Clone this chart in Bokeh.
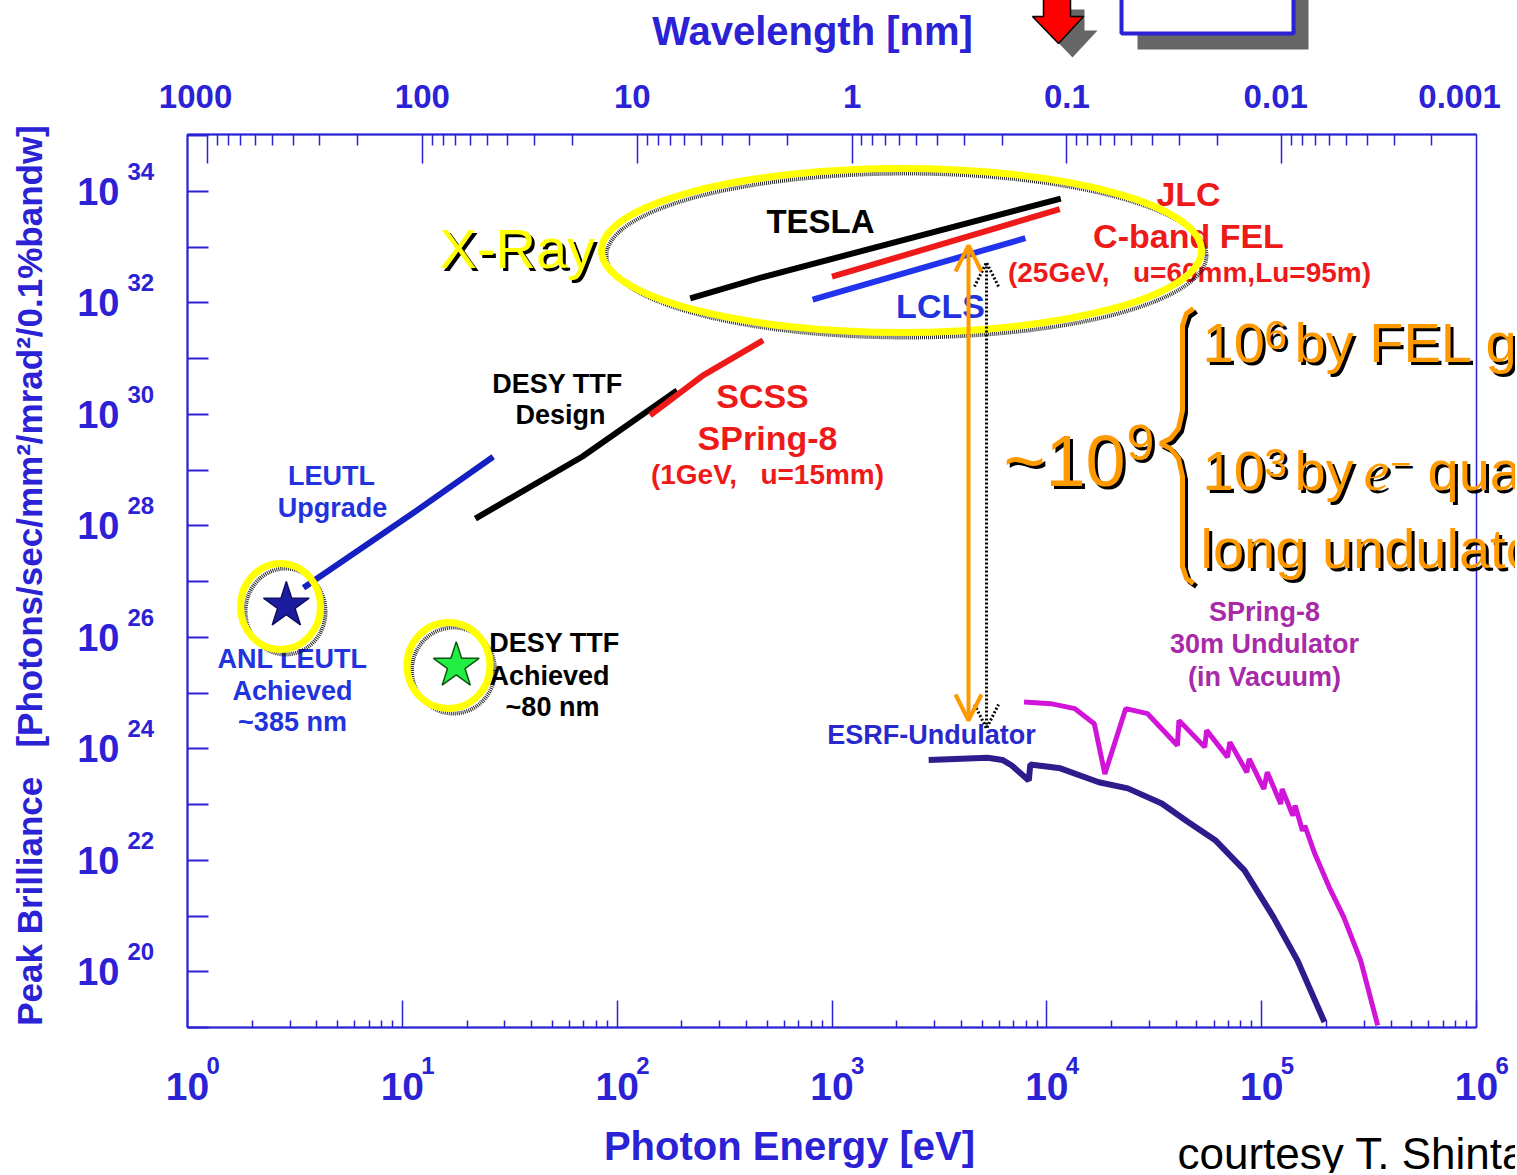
import math
from bokeh.plotting import figure
from bokeh.models import (FixedTicker, LogAxis, Arrow, OpenHead, Range1d, CustomJSTickFormatter)
from bokeh.core.properties import value
from bokeh.embed import file_html
from bokeh.resources import INLINE

# ---------------- data ----------------
HC = 1239.84  # eV * nm, converts photon energy to wavelength

energy_decades = [0, 1, 2, 3, 4, 5, 6]
brilliance_decades = list(range(19, 36))
brilliance_label_decades = [20, 22, 24, 26, 28, 30, 32, 34]
wavelength_ticks_nm = [1000, 100, 10, 1, 0.1, 0.01, 0.001]
wavelength_tick_labels = ["1000", "100", "10", "1", "0.1", "0.01", "0.001"]

# series as log10(photon energy / eV) and log10(peak brilliance)
tesla_logE = [2.34, 2.665, 4.065]
tesla_logB = [32.08, 32.45, 33.87]
jlc_logE = [3.00, 4.06]
jlc_logB = [32.47, 33.68]
lcls_logE = [2.91, 3.90]
lcls_logB = [32.06, 33.16]
scss_logE = [2.153, 2.400, 2.679]
scss_logB = [29.98, 30.70, 31.33]
desy_design_logE = [1.340, 1.837, 2.279]
desy_design_logB = [28.13, 29.24, 30.43]
leutl_upgrade_logE = [0.540, 1.047, 1.423]
leutl_upgrade_logB = [26.89, 28.22, 29.24]
anl_leutl_logE = [0.460]
anl_leutl_logB = [26.57]
desy_achieved_logE = [1.251]
desy_achieved_logB = [25.49]
esrf_logE = [3.450, 3.725, 3.793, 3.837, 3.916, 3.923, 4.063, 4.242, 4.377, 4.535,
             4.649, 4.784, 4.920, 5.055, 5.167, 5.292]
esrf_logB = [23.80, 23.84, 23.80, 23.70, 23.43, 23.72, 23.65, 23.40, 23.29, 23.02,
             22.71, 22.36, 21.82, 20.98, 20.20, 19.10]
spring8_logE = [3.894, 4.018, 4.131, 4.221, 4.270, 4.367, 4.469, 4.608, 4.615, 4.735,
                4.744, 4.841, 4.852, 4.931, 4.942, 5.010, 5.026, 5.089, 5.095, 5.145,
                5.156, 5.190, 5.201, 5.247, 5.314, 5.382, 5.461, 5.540]
spring8_logB = [24.84, 24.81, 24.72, 24.45, 23.55, 24.72, 24.63, 24.06, 24.51, 24.03,
                24.33, 23.85, 24.12, 23.58, 23.82, 23.28, 23.58, 23.01, 23.28, 22.80,
                22.98, 22.53, 22.62, 22.12, 21.52, 20.98, 20.20, 19.04]

# ---------------- layout / style ----------------
W, H = 1515, 1173
FL, FR, FT, FB = 187, 1476, 134, 1027        # frame edges in canvas pixels
Y_LO = 19.0
Y_HI = 19.0 + (FB - FT) / 55.74

BLUE = "#2b22d6"
RED = "#ee1a1a"
ORANGE = "#ff9900"
YELLOW = "#ffff00"
MAG_LINE = "#d014d8"
MAG_TEXT = "#a82aa8"
ESRF_C = "#2e1c8c"
SANS = "Liberation Sans"
NB3 = "\u00a0\u00a0\u00a0"


def dx(px):
    return 10 ** ((px - FL) / (FR - FL) * 6.0)


def dy(py):
    return 10 ** (Y_LO + (FB - py) / (FB - FT) * (Y_HI - Y_LO))


def pw(vals):
    return [10 ** v for v in vals]


p = figure(width=W, height=H, x_axis_type="log", y_axis_type="log",
           x_range=Range1d(10 ** energy_decades[0], 10 ** energy_decades[-1]),
           y_range=Range1d(10 ** Y_LO, 10 ** Y_HI),
           output_backend="svg", toolbar_location=None,
           min_border_left=FL, min_border_right=W - FR,
           min_border_top=FT, min_border_bottom=H - FB)
p.xgrid.visible = False
p.ygrid.visible = False
p.outline_line_color = BLUE
p.outline_line_width = 1.5
p.background_fill_color = "white"
p.border_fill_color = "white"

empty = CustomJSTickFormatter(code="return ''")

xa = p.xaxis[0]
xa.ticker = FixedTicker(ticks=[10.0 ** k for k in energy_decades],
                        minor_ticks=[m * 10.0 ** k for k in energy_decades[:-1] for m in range(2, 10)])
xa.formatter = empty
xa.major_tick_in, xa.major_tick_out = 27, 0
xa.minor_tick_in, xa.minor_tick_out = 7, 0
xa.axis_line_color = BLUE
xa.axis_line_width = 2
xa.major_tick_line_color = BLUE
xa.minor_tick_line_color = BLUE
xa.major_tick_line_width = 1.5
xa.minor_tick_line_width = 1.5

ya = p.yaxis[0]
ya.ticker = FixedTicker(ticks=[10.0 ** k for k in brilliance_decades], minor_ticks=[])
ya.formatter = empty
ya.major_tick_in, ya.major_tick_out = 21, 0
ya.axis_line_color = BLUE
ya.axis_line_width = 2
ya.major_tick_line_color = BLUE
ya.major_tick_line_width = 2

wl_minor = [m * 10.0 ** k for k in range(-3, 3) for m in range(2, 10)]
top = LogAxis(ticker=FixedTicker(ticks=[HC / w for w in wavelength_ticks_nm],
                                 minor_ticks=[HC / w for w in wl_minor]),
              formatter=empty)
top.major_tick_in, top.major_tick_out = 29, 0
top.minor_tick_in, top.minor_tick_out = 11, 0
top.axis_line_color = BLUE
top.axis_line_width = 2
top.major_tick_line_color = BLUE
top.minor_tick_line_color = BLUE
top.major_tick_line_width = 1.5
top.minor_tick_line_width = 1.5
p.add_layout(top, "above")


def txt(xs, ys, texts, size, color, align="center", style="bold", font=SANS, angle=0.0,
        level="overlay"):
    p.text(x=xs, y=ys, text=texts, text_font=value(font), text_font_style=style,
           text_font_size=f"{size}px", text_color=color, text_align=align,
           text_baseline="middle", angle=angle, level=level)


# ---------------- tick labels & titles (drawn above everything, outside the frame) ----------------
txt([dx(119)] * len(brilliance_label_decades), [10.0 ** k for k in brilliance_label_decades],
    ["10"] * len(brilliance_label_decades), 38, BLUE, align="right")
txt([dx(127)] * len(brilliance_label_decades),
    [10.0 ** (k + 20 / 55.74) for k in brilliance_label_decades],
    [str(k) for k in brilliance_label_decades], 24, BLUE, align="left")
txt([10.0 ** k for k in energy_decades], [dy(1086)] * len(energy_decades),
    ["10"] * len(energy_decades), 39, BLUE)
txt([10.0 ** (k + 19 / 215) for k in energy_decades], [dy(1065)] * len(energy_decades),
    [str(k) for k in energy_decades], 24, BLUE, align="left")
top_shift_px = [-12, 0, -5, 0, 0, -6, -37]
txt([10 ** (math.log10(HC / w) + s / 215) for w, s in zip(wavelength_ticks_nm, top_shift_px)],
    [dy(96)] * len(wavelength_ticks_nm), wavelength_tick_labels, 33, BLUE)

txt([dx(812)], [dy(30)], ["Wavelength [nm]"], 40, BLUE)
txt([dx(789)], [dy(1145)], ["Photon Energy [eV]"], 40, BLUE)
txt([dx(29)], [dy(575)],
    ["Peak Brilliance" + NB3 + "[Photons/sec/mm\u00b2/mrad\u00b2/0.1%bandw]"], 35, BLUE,
    angle=math.pi / 2)
txt([dx(1177)], [dy(1153)], ["courtesy T. Shintake"], 44, "black", align="left",
    style="normal")

# ---------------- series ----------------
p.line(pw(leutl_upgrade_logE), pw(leutl_upgrade_logB), line_color="#1420c0", line_width=6)
p.line(pw(desy_design_logE), pw(desy_design_logB), line_color="black", line_width=6)
p.line(pw(scss_logE), pw(scss_logB), line_color=RED, line_width=6)
p.line(pw(tesla_logE), pw(tesla_logB), line_color="black", line_width=6)
p.line(pw(jlc_logE), pw(jlc_logB), line_color=RED, line_width=6)
p.line(pw(lcls_logE), pw(lcls_logB), line_color="#2233ee", line_width=6)
p.line(pw(esrf_logE), pw(esrf_logB), line_color=ESRF_C, line_width=6)
p.line(pw(spring8_logE), pw(spring8_logB), line_color=MAG_LINE, line_width=5)
p.scatter(pw(anl_leutl_logE), pw(anl_leutl_logB), marker="star", size=48,
          fill_color="#1c1ca0", line_color="#101060", line_width=1.5)
p.scatter(pw(desy_achieved_logE), pw(desy_achieved_logB), marker="star", size=48,
          fill_color="#22ee44", line_color="#115511", line_width=1.5)


# ---------------- in-plot text ----------------
def gtext(items, size, color):
    txt([dx(a) for a, _, _ in items], [dy(b) for _, b, _ in items], [t for _, _, t in items],
        size, color, level="glyph")


gtext([(820, 221, "TESLA")], 33, "black")
gtext([(1188, 193, "JLC"), (1188, 235, "C-band FEL")], 34, RED)
gtext([(1189, 272, "(25GeV," + NB3 + "u=60mm,Lu=95m)")], 28, RED)
gtext([(940, 305, "LCLS")], 34, "#2233dd")
gtext([(762, 395, "SCSS"), (767, 437, "SPring-8")], 34, RED)
gtext([(767, 474, "(1GeV," + NB3 + "u=15mm)")], 28, RED)
gtext([(557, 383, "DESY TTF"), (560, 414, "Design"),
       (554, 642, "DESY TTF"), (549, 675, "Achieved"), (552, 706, "~80 nm")], 27, "black")
gtext([(331, 475, "LEUTL"), (332, 507, "Upgrade"),
       (292, 658, "ANL LEUTL"), (292, 690, "Achieved"), (292, 721, "~385 nm")], 27, "#2233dd")
gtext([(1264, 611, "SPring-8"), (1264, 643, "30m Undulator"), (1264, 676, "(in Vacuum)")],
      27, MAG_TEXT)
gtext([(931, 734, "ESRF-Undulator")], 27, "#2828cc")

# ---------------- rings ----------------
rings = [(901, 250, 600, 164), (280, 606, 80, 86), (448, 665, 83, 86)]
for cx, cy, w_, h_ in rings:
    p.ellipse(x=[dx(cx + 5)], y=[dy(cy + 5)], width=w_, height=h_, width_units="screen",
              height_units="screen", fill_color=None, line_color="black", line_width=4,
              line_dash="1 1", line_alpha=0.85)
    p.ellipse(x=[dx(cx)], y=[dy(cy)], width=w_, height=h_, width_units="screen",
              height_units="screen", fill_color=None, line_color=YELLOW, line_width=7)

# ---------------- brace ----------------
brace = [(1193, 308), (1186, 313), (1182, 325), (1182, 410), (1178, 428), (1170, 438),
         (1160, 443), (1170, 448), (1178, 458), (1182, 476), (1182, 566), (1186, 578),
         (1193, 583)]
p.line([dx(a + 3) for a, _ in brace], [dy(b + 3) for _, b in brace], line_color="black",
       line_width=5)
p.line([dx(a) for a, _ in brace], [dy(b) for _, b in brace], line_color=ORANGE, line_width=5)

# ---------------- arrows ----------------
p.add_layout(Arrow(start=OpenHead(size=24, line_color="black", line_width=3, line_dash="2 2"),
                   end=OpenHead(size=24, line_color="black", line_width=3, line_dash="2 2"),
                   x_start=dx(986), y_start=dy(262), x_end=dx(986), y_end=dy(728),
                   line_color="black", line_width=3, line_dash="2 2"))
p.add_layout(Arrow(start=OpenHead(size=26, line_color=ORANGE, line_width=4),
                   end=OpenHead(size=26, line_color=ORANGE, line_width=4),
                   x_start=dx(968), y_start=dy(245), x_end=dx(968), y_end=dy(720),
                   line_color=ORANGE, line_width=4))


# ---------------- orange annotations (with black shadow) ----------------
def olab(x, y, text, size, font=SANS, style="normal", color=ORANGE):
    txt([dx(x + 3)], [dy(y + 3)], [text], size, "black", align="left", style=style, font=font)
    txt([dx(x)], [dy(y)], [text], size, color, align="left", style=style, font=font)


olab(1202, 342, "10", 56)
olab(1264, 334, "6", 40)
olab(1294, 342, "by FEL gain", 56)
olab(1202, 470, "10", 56)
olab(1264, 462, "3", 40)
olab(1294, 470, "by", 56)
olab(1363, 470, "e", 58, font="Liberation Serif", style="italic")
olab(1390, 462, "\u2212", 36)
olab(1427, 470, "quality &", 56)
olab(1200, 548, "long undulator", 56)
olab(1003, 460, "~10", 72)
olab(1126, 442, "9", 50)

# X-Ray label (yellow with black shadow)
olab(439, 248, "X-Ray", 56, color=YELLOW)

# ---------------- top decorations ----------------
p.quad(left=[dx(1137)], right=[dx(1308)], top=[dy(-10)], bottom=[dy(49)],
       fill_color="#333333", fill_alpha=0.75, line_alpha=0, level="overlay")
p.quad(left=[dx(1121)], right=[dx(1293)], top=[dy(-10)], bottom=[dy(33)],
       fill_color="white", line_color=BLUE, line_width=4, level="overlay")
arrow_shape = [(1043, -5), (1070, -5), (1070, 16), (1083, 16), (1058, 43), (1032, 16),
               (1043, 16)]
p.patch([dx(a + 14) for a, _ in arrow_shape], [dy(b + 14) for _, b in arrow_shape],
        fill_color="#333333", fill_alpha=0.75, line_alpha=0, level="overlay")
p.patch([dx(a) for a, _ in arrow_shape], [dy(b) for _, b in arrow_shape],
        fill_color="#ff0000", line_color="black", line_width=1.5, level="overlay")

open("out.html", "w").write(file_html(p, INLINE))
